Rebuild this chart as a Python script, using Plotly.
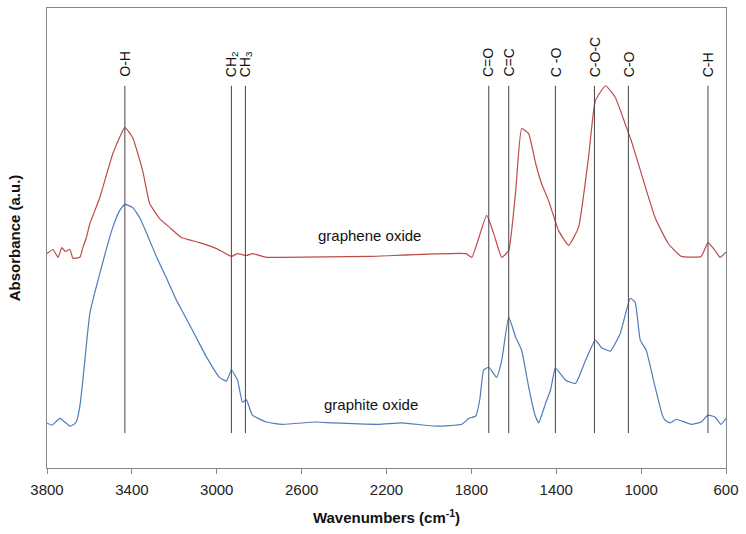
import plotly.graph_objects as go

# ---- FTIR spectra ----
graphene_wn = [3800, 3772, 3748, 3730, 3715, 3692, 3678, 3645, 3631, 3615, 3598, 3551, 3490,
               3433, 3396, 3349, 3316, 3269, 3222, 3166, 3081, 3001, 2931, 2902, 2860,
               2832, 2766, 2691, 2282, 1826, 1798, 1728, 1695, 1657, 1624, 1591, 1563,
               1530, 1497, 1469, 1436, 1389, 1342, 1295, 1248, 1216, 1168, 1121, 1075,
               1046, 999, 934, 872, 811, 717, 685, 652, 628, 600]
graphene_abs = [46.6, 47.5, 45.8, 47.9, 47.1, 47.5, 45.6, 45.8, 47.9, 50.0, 53.1, 58.8, 68.3,
                74.0, 71.8, 64.6, 57.5, 54.2, 52.3, 50.1, 49.0, 47.7, 46.0, 46.6, 46.2,
                46.6, 45.8, 45.8, 46.0, 46.6, 45.8, 54.9, 51.0, 45.8, 47.3, 60.3, 73.8,
                72.7, 66.2, 61.8, 58.1, 51.6, 48.4, 52.3, 67.5, 79.8, 83.1, 80.5, 74.8,
                71.1, 64.0, 54.4, 48.8, 46.0, 46.0, 49.0, 47.3, 45.8, 46.9]

graphite_wn = [3800, 3777, 3739, 3692, 3670, 3659, 3645, 3631, 3615, 3598, 3551, 3490, 3457,
               3433, 3396, 3363, 3330, 3283, 3236, 3189, 3114, 3048, 2987, 2954, 2931,
               2902, 2879, 2860, 2832, 2766, 2691, 2531, 2456, 2235, 2127, 1967, 1845,
               1812, 1779, 1760, 1742, 1718, 1681, 1657, 1624, 1591, 1563, 1530, 1500,
               1483, 1465, 1450, 1427, 1404, 1356, 1309, 1262, 1216, 1187, 1145, 1098,
               1051, 1028, 1004, 976, 934, 900, 887, 863, 835, 764, 717, 685, 652, 624, 600]
graphite_abs = [9.8, 9.3, 10.8, 9.1, 9.6, 10.4, 13.5, 19.1, 26.5, 33.6, 42.3, 52.3, 56.0,
                57.3, 56.6, 54.4, 51.0, 45.8, 41.2, 36.4, 29.9, 24.1, 19.7, 18.9, 21.3,
                19.1, 14.3, 14.8, 11.5, 10.0, 9.5, 10.0, 9.8, 9.5, 9.8, 9.1, 9.5,
                10.8, 11.3, 15.0, 21.3, 21.9, 19.7, 23.4, 32.8, 28.4, 25.6, 17.6, 11.5,
                9.8, 12.0, 14.1, 16.9, 21.7, 19.1, 18.4, 23.4, 27.8, 26.2, 25.4, 29.3,
                36.9, 36.0, 27.8, 25.6, 17.6, 11.5, 10.4, 9.8, 10.6, 9.5, 10.0, 11.5,
                11.1, 9.5, 10.8]

# ---- Band assignments ----
band_wn = [3433, 2931, 2865, 1718, 1624, 1404, 1220, 1060, 685]
band_labels = ["O-H", "CH<sub>2</sub>", "CH<sub>3</sub>", "C=O", "C=C", "C -O", "C-O-C", "C-O", "C-H"]

x_ticks = [3800, 3400, 3000, 2600, 2200, 1800, 1400, 1000, 600]

FONT = "Liberation Sans, Arial, sans-serif"

fig = go.Figure()
fig.add_trace(go.Scatter(x=graphene_wn, y=graphene_abs, mode="lines", name="graphene oxide",
                         line=dict(color="#BE4B48", width=1.2, shape="spline", smoothing=0.4)))
fig.add_trace(go.Scatter(x=graphite_wn, y=graphite_abs, mode="lines", name="graphite oxide",
                         line=dict(color="#4F7CBA", width=1.2, shape="spline", smoothing=0.4)))

for wn, lab in zip(band_wn, band_labels):
    fig.add_shape(type="line", x0=wn, x1=wn, y0=7.6, y1=83.1, xref="x", yref="y",
                  line=dict(color="#444444", width=1))
    fig.add_annotation(x=wn, y=84.6, text=lab, textangle=-90, showarrow=False,
                       xanchor="center", yanchor="bottom",
                       font=dict(family=FONT, size=14, color="#111111"))

fig.add_annotation(x=2282, y=50.5, text="graphene oxide", showarrow=False,
                   font=dict(family=FONT, size=15, color="#111111"))
fig.add_annotation(x=2273, y=13.7, text="graphite oxide", showarrow=False,
                   font=dict(family=FONT, size=15, color="#111111"))

fig.update_layout(
    width=746, height=534,
    margin=dict(l=47, r=18, t=7, b=66),
    plot_bgcolor="white", paper_bgcolor="white",
    showlegend=False,
    font=dict(family=FONT, size=15, color="#111111"),
)
fig.update_xaxes(range=[3800, 600], tickvals=x_ticks, ticks="outside", ticklen=5,
                 tickcolor="#888888", showline=True, linecolor="#888888", linewidth=1,
                 mirror=True, showgrid=False, zeroline=False, ticklabelstandoff=3,
                 tickfont=dict(size=15, color="#222222"),
                 title=dict(text="<b>Wavenumbers (cm<sup>-1</sup>)</b>", standoff=15,
                            font=dict(size=15)))
fig.update_yaxes(range=[0, 100], showticklabels=False, ticks="", showline=True,
                 linecolor="#888888", linewidth=1, mirror=True, showgrid=False,
                 zeroline=False,
                 title=dict(text="<b>Absorbance (a.u.)</b>", standoff=21, font=dict(size=15)))

fig.write_html("out.html", config={"displayModeBar": False},
               post_script="document.body.style.margin='0';")
